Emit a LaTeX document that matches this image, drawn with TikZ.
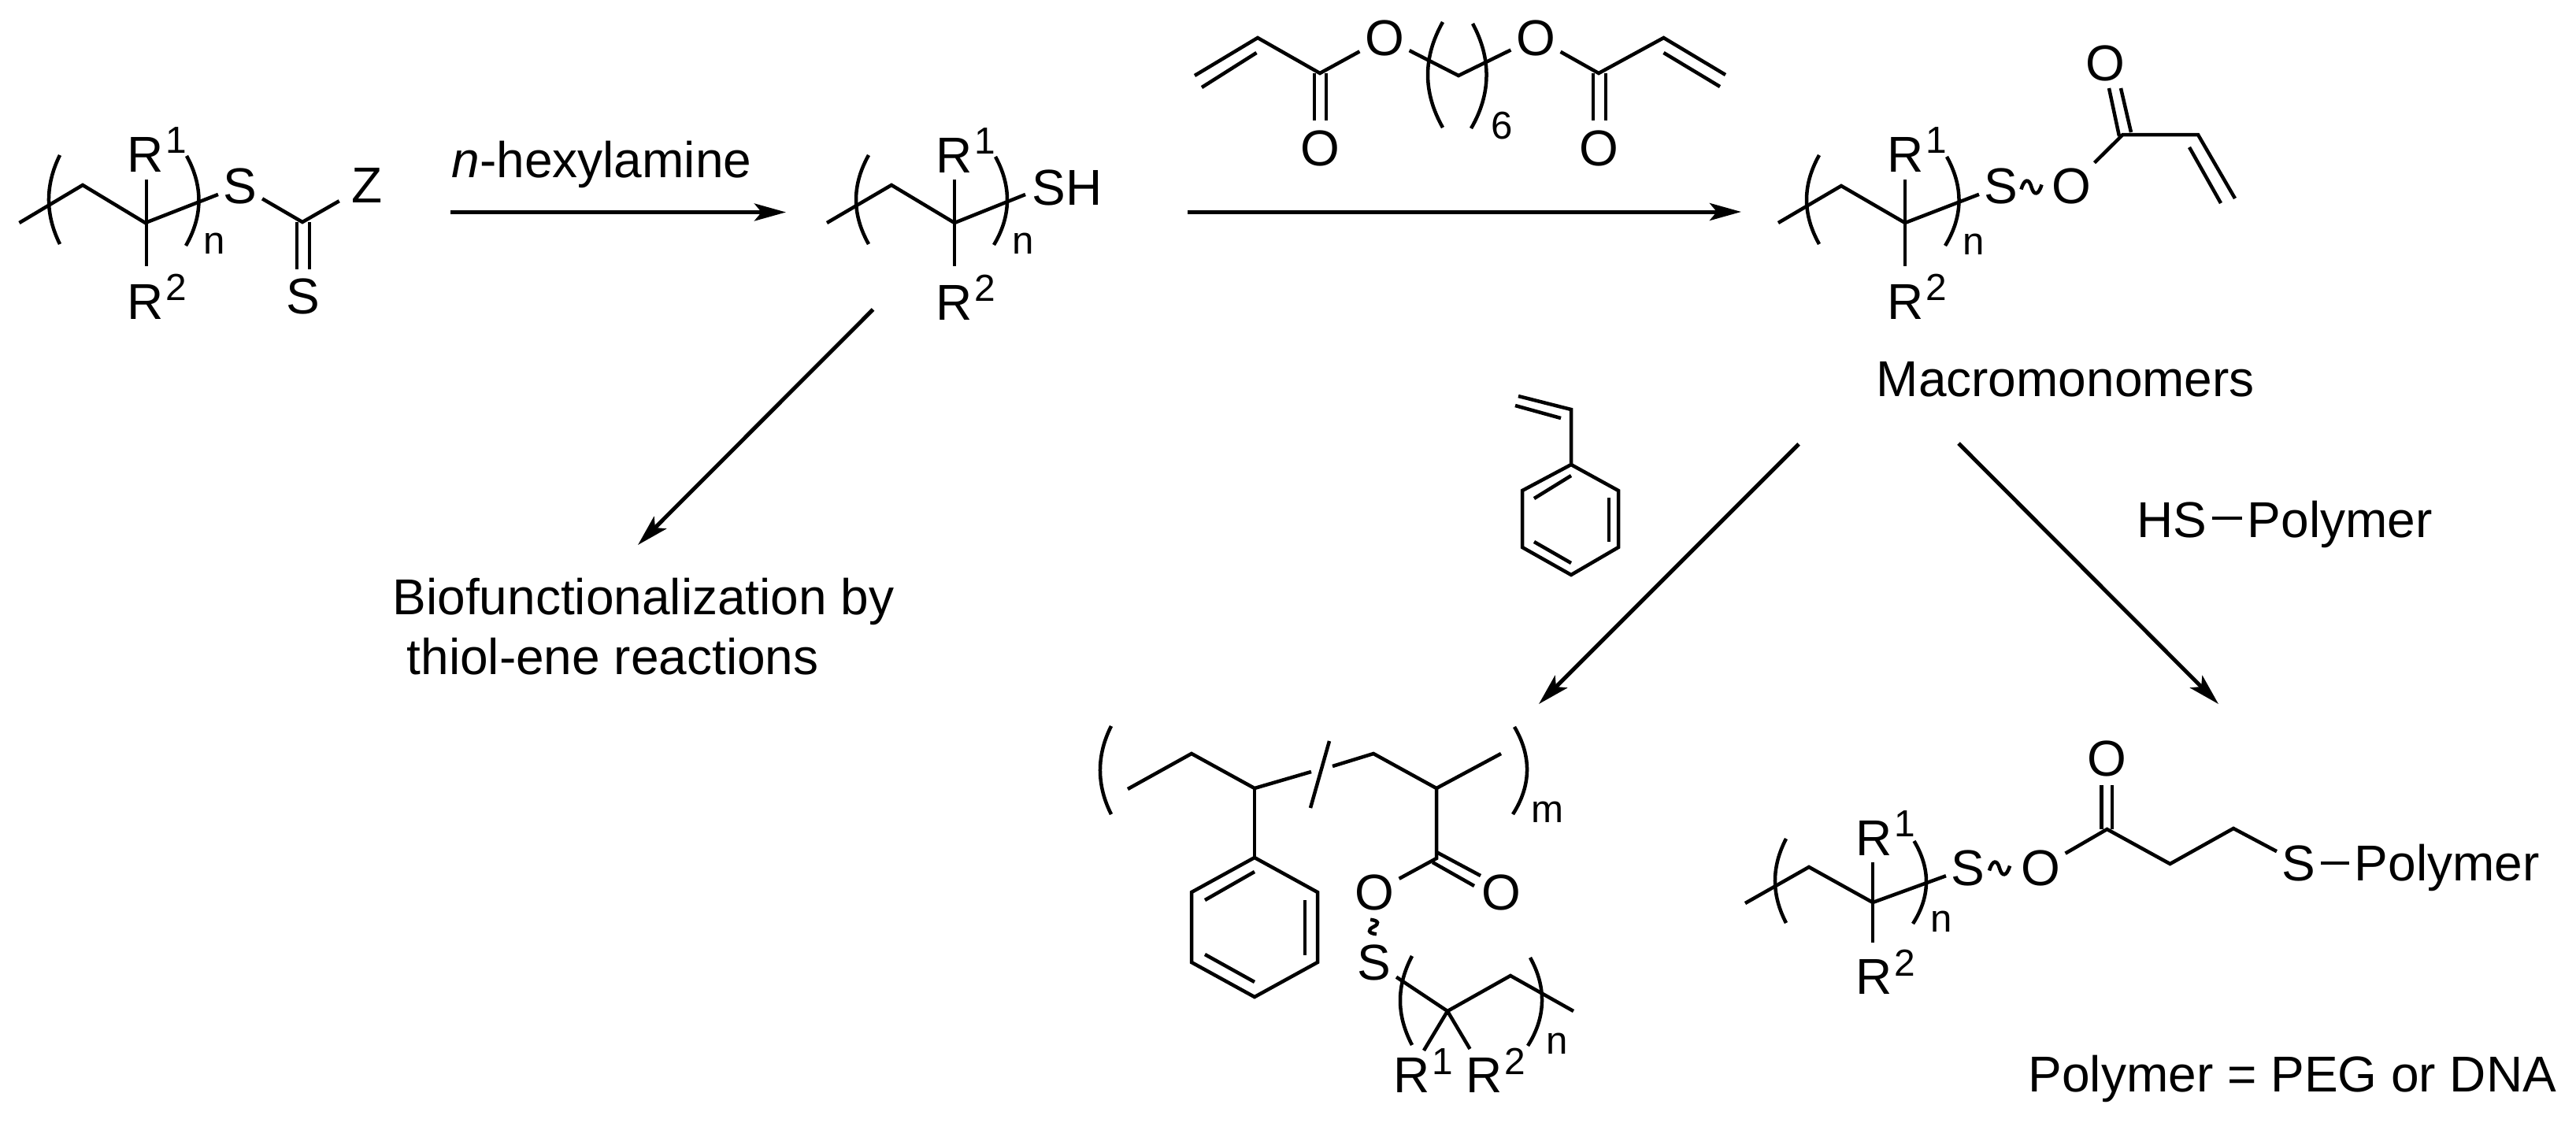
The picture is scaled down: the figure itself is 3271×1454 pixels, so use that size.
\documentclass[tikz,border=0pt]{standalone}
\usepackage{fontspec}
\setmainfont{Liberation Sans}
\usetikzlibrary{arrows.meta}
\newcommand{\Rsup}[1]{R\kern0.03cm\raisebox{0.23cm}{\fontsize{13.6pt}{13.6pt}\selectfont #1}}
\begin{document}
\begin{tikzpicture}[x=0.01cm,y=-0.01cm,
  bond/.style={line width=0.045cm},
  rxnarrow/.style={line width=0.05cm,-{Stealth[length=0.4cm,width=0.22cm,inset=0.09cm]}},
  atom/.style={font=\fontsize{18.2pt}{21.6pt}\selectfont,inner sep=0.06cm},
  label/.style={font=\fontsize{18.2pt}{21.6pt}\selectfont,inner sep=0,anchor=base west},
  subidx/.style={font=\fontsize{14pt}{14pt}\selectfont,inner sep=0},
  wiggle/.pic={\draw[bond] (-13,3) .. controls (-9,-11) and (-3,-11) .. (0,0) .. controls (3,11) and (9,11) .. (13,-3);}]
\useasboundingbox (0,0) rectangle (3271,1454);
\coordinate (a1s) at (572,269.5);
\coordinate (a1e) at (998,269.5);
\coordinate (a2s) at (1508,269);
\coordinate (a2e) at (2211,269);
\coordinate (a3s) at (1108.5,393);
\coordinate (a3e) at (810,692);
\coordinate (a4s) at (2284,564);
\coordinate (a4e) at (1954,894);
\coordinate (a5s) at (2487,563);
\coordinate (a5e) at (2817,894);
\draw[rxnarrow] (a1s) -- (a1e);
\draw[rxnarrow] (a2s) -- (a2e);
\draw[rxnarrow] (a3s) -- (a3e);
\draw[rxnarrow] (a4s) -- (a4e);
\draw[rxnarrow] (a5s) -- (a5e);
\node[label] (amine) at (573,225) {\textit{n}-hexylamine};
\node[label] (bio1) at (498,780) {Biofunctionalization by};
\node[label] (bio2) at (516,856) {thiol-ene reactions};
\node[label] (macro) at (2382,503) {Macromonomers};
\node[label] (defpoly) at (2575,1386) {Polymer = PEG or DNA};
\node[label] (R1a) at (161,218) {\Rsup{1}};
\node[label] (R2a) at (161,405) {\Rsup{2}};
\node[subidx] (na) at (272,309) {n};
\node[atom] (S1a) at (305,236) {S};
\node[atom,inner xsep=0.15cm] (Z1) at (466,235) {Z};
\node[atom] (S1b) at (385,376) {S};
\draw[bond] (24.5,283) -- (105,235) -- (184.5,283) -- (S1a);
\draw[bond] (186,228) -- (186,338);
\draw[bond] (76,197) .. controls (57.3,235) and (57.3,272) .. (76,310);
\draw[bond] (237,198) .. controls (257.8,236) and (257.8,274) .. (236,312);
\draw[bond] (S1a) -- (384,282) -- (Z1);
\draw[bond] (377,282) -- (377,342);
\draw[bond] (393,282) -- (393,342);
\node[label] (R1b) at (1188,219) {\Rsup{1}};
\node[label] (R2b) at (1188,406) {\Rsup{2}};
\node[subidx] (nb) at (1299,309) {n};
\node[label] (SH) at (1310,260) {SH};
\draw[bond] (1050,283) -- (1132,235) -- (1212,283) -- (1302,247);
\draw[bond] (1212,228) -- (1212,338);
\draw[bond] (1103,197) .. controls (1081.7,235) and (1081.7,272) .. (1103,310);
\draw[bond] (1264,199) .. controls (1284.3,236) and (1284.3,274) .. (1262,311);
\node[atom] (O1a) at (1758,48) {O};
\node[atom] (O1b) at (1950,48) {O};
\node[atom] (O1c) at (1676,188) {O};
\node[atom] (O1d) at (2030,188) {O};
\node[subidx] (six) at (1907,160) {6};
\draw[bond] (1517,96) -- (1597,48) -- (1676,93) -- (O1a);
\draw[bond] (1526,111) -- (1595.5,67);
\draw[bond] (1669,93) -- (1669,153);
\draw[bond] (1684,93) -- (1684,153);
\draw[bond] (O1a) -- (1852,96) -- (O1b);
\draw[bond] (1832,28) .. controls (1806.7,73) and (1806.7,117) .. (1832,162);
\draw[bond] (1870,30) .. controls (1893.7,74) and (1893.7,119) .. (1868,163);
\draw[bond] (O1b) -- (2030,93) -- (2112.5,48) -- (2191,95);
\draw[bond] (2112.5,67) -- (2184,110);
\draw[bond] (2023,93) -- (2023,153);
\draw[bond] (2039,93) -- (2039,153);
\node[label] (R1c) at (2396,218) {\Rsup{1}};
\node[label] (R2c) at (2396,405) {\Rsup{2}};
\node[subidx] (nc) at (2506,310) {n};
\node[atom] (S3a) at (2541,236) {S};
\node[atom] (O3a) at (2630,236) {O};
\node[atom] (O3b) at (2673,80) {O};
\draw[bond] (2258,283) -- (2338,236) -- (2419,283) -- (S3a);
\draw[bond] (2419,228) -- (2419,338);
\draw[bond] (2310,197) .. controls (2288.7,235) and (2288.7,272) .. (2310,310);
\draw[bond] (2472,199) .. controls (2493,237) and (2493,274) .. (2470,312);
\pic at (2579.5,237.5) {wiggle};
\draw[bond] (O3a) -- (2695.5,171) -- (2791,171) -- (2838,252);
\draw[bond] (2780,187) -- (2820,258);
\draw[bond] (2678,112) -- (2691,173);
\draw[bond] (2693,112) -- (2706,168);
\draw[bond] (1928,503) -- (1995,520) -- (1995,590);
\draw[bond] (1924,515) -- (1982,531);
\draw[bond] (1995,590) -- (2055,623) -- (2055,695) -- (1995,730) -- (1933,695) -- (1933,623) -- cycle;
\draw[bond] (1948,633) -- (1995,604);
\draw[bond] (2043,632) -- (2043,688);
\draw[bond] (1948,688) -- (1995,715);
\node[label] (HS) at (2713,682) {HS};
\node[label] (poly0) at (2853,682) {Polymer};
\draw[bond] (2809,658) -- (2847,658);
\draw[bond] (1411,922) .. controls (1392.3,959) and (1392.3,997) .. (1411,1034);
\draw[bond] (1923,923) .. controls (1944.7,960) and (1944.7,997) .. (1921,1034);
\node[subidx] (m) at (1965,1031) {m};
\draw[bond] (1432,1002) -- (1513,957) -- (1593,1001) -- (1665,980);
\draw[bond] (1692,973) -- (1744,957) -- (1824,1001) -- (1906,957);
\draw[bond] (1688,941) -- (1664,1026);
\draw[bond] (1593,1001) -- (1593,1089);
\draw[bond] (1593,1089) -- (1673,1133) -- (1673,1222) -- (1593,1266) -- (1513,1222) -- (1513,1133) -- cycle;
\draw[bond] (1530,1143) -- (1593,1107);
\draw[bond] (1657,1143) -- (1657,1213);
\draw[bond] (1530,1212) -- (1593,1247);
\node[atom] (O4a) at (1745,1133) {O};
\node[atom] (O4b) at (1906,1133) {O};
\node[atom] (S4) at (1745,1222) {S};
\draw[bond] (1824,1001) -- (1824,1090) -- (O4a);
\draw[bond] (1824,1082) -- (1880,1112);
\draw[bond] (1819,1095) -- (1872,1125);
\pic[rotate=100,scale=0.75] at (1744,1177) {wiggle};
\draw[bond] (S4) -- (1838,1284) -- (1918,1239) -- (1998,1284);
\draw[bond] (1793,1214) .. controls (1773,1252) and (1773,1289) .. (1793,1327);
\draw[bond] (1943,1216) .. controls (1963.5,1253) and (1963.5,1291) .. (1940,1328);
\draw[bond] (1838,1284) -- (1808,1334);
\draw[bond] (1838,1284) -- (1866.5,1332);
\node[label] (R1d) at (1769,1387) {\Rsup{1}};
\node[label] (R2d) at (1861,1387) {\Rsup{2}};
\node[subidx] (nd) at (1977,1325) {n};
\node[label] (R1e) at (2356,1086) {\Rsup{1}};
\node[label] (R2e) at (2356,1262) {\Rsup{2}};
\node[subidx] (ne) at (2465,1170) {n};
\node[atom] (S5a) at (2499,1102) {S};
\node[atom] (O5a) at (2591,1102) {O};
\node[atom] (O5b) at (2675.5,963) {O};
\node[atom] (S5b) at (2919,1096) {S};
\node[atom,anchor=base west] (poly5) at (2983,1118) {Polymer};
\draw[bond] (2216,1147) -- (2297,1101) -- (2378,1146) -- (S5a);
\draw[bond] (2378,1095) -- (2378,1197);
\draw[bond] (2268,1065) .. controls (2249.3,1101) and (2249.3,1136) .. (2268,1172);
\draw[bond] (2430.5,1068) .. controls (2451.4,1103) and (2451.4,1138) .. (2429,1173);
\pic at (2539,1102.5) {wiggle};
\draw[bond] (O5a) -- (2675.5,1053) -- (2755.5,1097) -- (2836,1052) -- (S5b);
\draw[bond] (2668.5,997) -- (2668.5,1053);
\draw[bond] (2682,997) -- (2682,1053);
\draw[bond] (S5b.east) -- (S5b.east -| poly5.west);
\end{tikzpicture}
\end{document}
